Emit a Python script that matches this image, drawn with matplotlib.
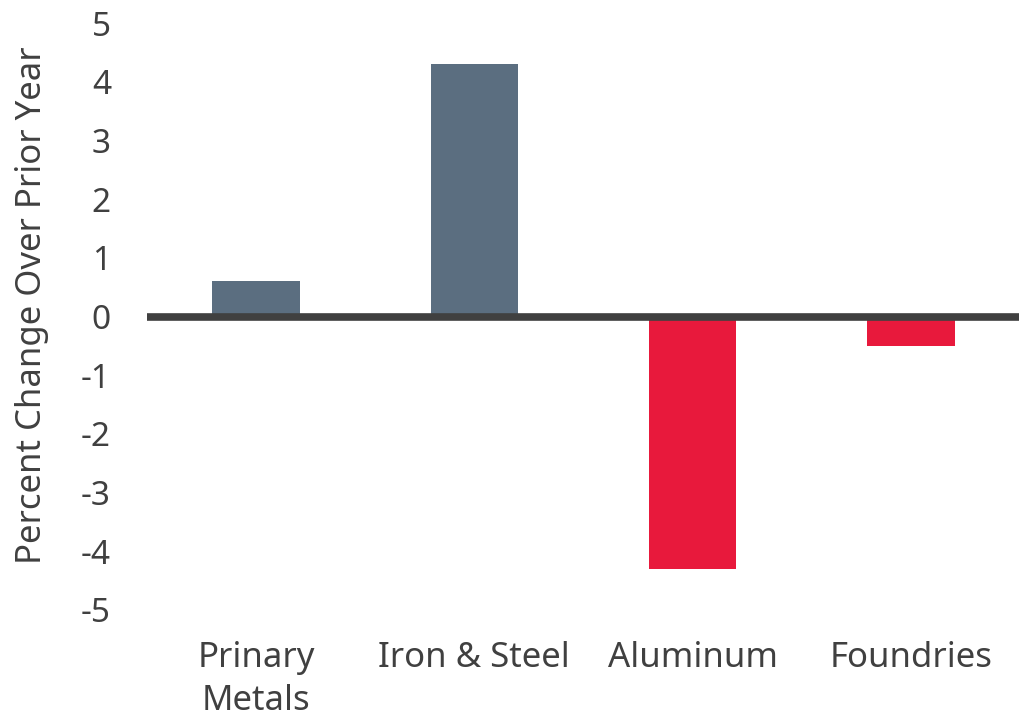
import matplotlib
matplotlib.use("Agg")
import matplotlib.pyplot as plt

plt.rcParams['font.family'] = ['Noto Sans', 'DejaVu Sans']

categories = ["Prinary\nMetals", "Iron & Steel", "Aluminum", "Foundries"]
values = [0.6, 4.3, -4.3, -0.5]
yticks = [5, 4, 3, 2, 1, 0, -1, -2, -3, -4, -5]

pos_color = "#5B6E80"
neg_color = "#E8193C"
text_color = "#404040"

fig = plt.figure(figsize=(10.2, 7.18), dpi=100)
ax = fig.add_axes([147 / 1020, 1 - 610 / 718, 873 / 1020, 587 / 718])

colors = [pos_color if v >= 0 else neg_color for v in values]
x = range(len(categories))
ax.bar(x, values, width=0.4, color=colors, zorder=2)

# heavy zero line across the whole plot
ax.axhline(0, color=text_color, linewidth=5.5, zorder=3)

ax.set_xlim(-0.5, len(categories) - 0.5)
ax.set_ylim(-5, 5)
ax.set_yticks(yticks)
ax.set_yticklabels([str(t) for t in yticks])
ax.set_xticks(list(x))
ax.set_xticklabels(categories, linespacing=1.35)

for s in ax.spines.values():
    s.set_visible(False)
ax.tick_params(axis="y", length=0, pad=26, labelsize=24, labelcolor=text_color)
ax.tick_params(axis="x", length=0, pad=22, labelsize=25, labelcolor=text_color)

ax.set_ylabel("Percent Change Over Prior Year", fontsize=25, color=text_color)
ax.yaxis.set_label_coords(-0.112, 0.52)

fig.savefig("out.png", dpi=100)
